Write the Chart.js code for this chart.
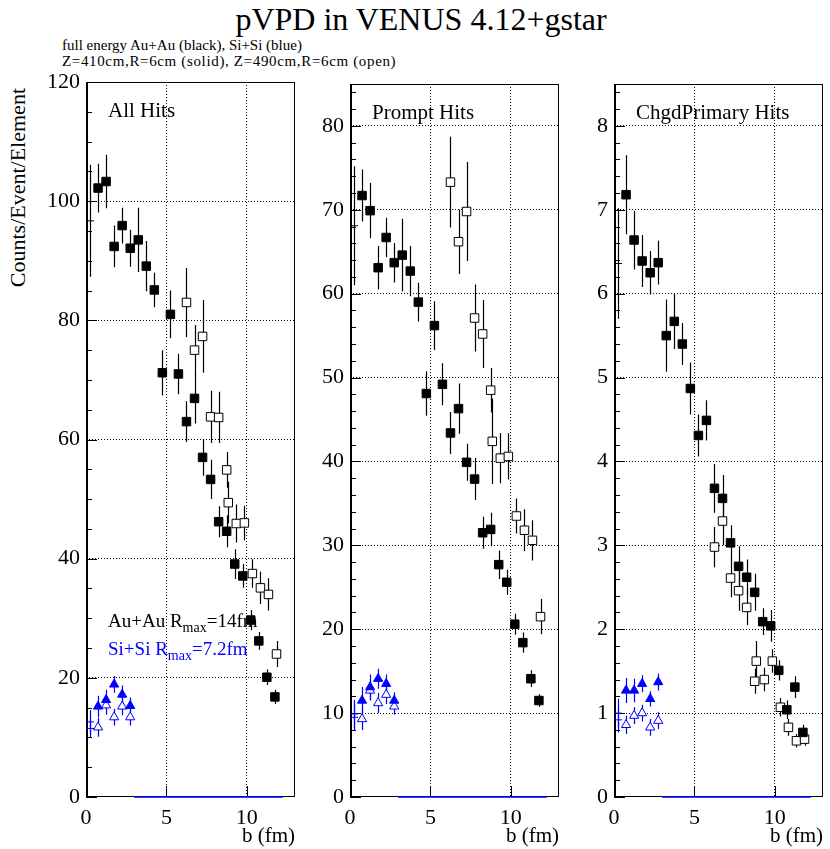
<!DOCTYPE html>
<html>
<head>
<meta charset="utf-8">
<title>pVPD in VENUS 4.12+gstar</title>
<script src="https://cdn.jsdelivr.net/npm/chart.js@4.4.1/dist/chart.umd.min.js"></script>
<style>
  body { margin: 0; background: #fff; }
  #page { position: relative; width: 830px; height: 849px; overflow: hidden; font-family: 'Liberation Serif', 'Times New Roman', serif; color: #000; }
  #page canvas { position: absolute; top: 0; }
  .txt { position: absolute; white-space: nowrap; line-height: 1; }
</style>
</head>
<body>
<div id="page">
  <div class="txt" style="left:0;width:842px;text-align:center;top:3px;font-size:32px">pVPD in VENUS 4.12+gstar</div>
  <div class="txt" style="left:62px;top:38px;font-size:15px">full energy Au+Au (black), Si+Si (blue)</div>
  <div class="txt" style="left:62px;top:54px;font-size:15px;letter-spacing:0.65px">Z=410cm,R=6cm (solid), Z=490cm,R=6cm (open)</div>
  <div class="txt" style="left:18px;top:88px;font-size:22px;transform-origin:0 0;transform:rotate(-90deg) translate(-100%,-50%)">Counts/Event/Element</div>
  <canvas id="allHits" width="277" height="849" style="left:26px"></canvas>
  <canvas id="promptHits" width="277" height="849" style="left:290px"></canvas>
  <canvas id="chgdHits" width="277" height="849" style="left:554px"></canvas>
</div>
<script>
// impact parameter bins (fm)
const bCenters = [0.25, 0.75, 1.25, 1.75, 2.25, 2.75, 3.25, 3.75, 4.25, 4.75, 5.25, 5.75,
                  6.25, 6.75, 7.25, 7.75, 8.25, 8.75, 9.25, 9.75, 10.25, 10.75, 11.25, 11.75]
const bOpen = [6.25, 6.75, 7.25, 7.75, 8.25, 8.75, 8.85, 9.35, 9.85, 10.35, 10.85, 11.35, 11.85]
const bSi = [0.25, 0.75, 1.25, 1.75, 2.25, 2.75]
const bSiEmpty = [3.0, 12.25]
const siEmpty = [0, 0]

// All Hits
const allAuSolid = [96.7, 102.2, 103.3, 92.4, 95.9, 92.1, 93.5, 89.1, 85.1, 71.2, 81.0, 71.0,
                    63.0, 66.9, 57.0, 53.3, 46.2, 44.6, 39.1, 37.1, 29.7, 26.2, 20.1, 16.8]
const allAuSolidErr = [9.4, 4.1, 4.5, 3.5, 3.0, 3.1, 5.4, 4.2, 2.9, 3.8, 4.0, 3.4,
                       3.4, 4.2, 3.1, 3.3, 2.6, 2.7, 2.5, 2.0, 1.7, 1.5, 1.3, 1.2]
const allAuOpen = [83.0, 75.0, 77.3, 63.8, 63.7, 54.9, 49.4, 45.9, 46.0, 37.5, 35.1, 34.0, 24.0]
const allAuOpenErr = [5.8, 4.2, 6.1, 4.4, 4.3, 3.0, 3.5, 3.2, 2.9, 2.4, 2.7, 2.7, 2.2]
const allSiSolid = [12.6, 15.2, 16.3, 18.9, 17.2, 15.3]
const allSiSolidErr = [2.0, 1.8, 1.7, 1.4, 1.5, 1.4]
const allSiOpen = [11.5, 11.7, 15.4, 13.4, 15.2, 13.4]
const allSiOpenErr = [1.6, 1.6, 1.6, 1.4, 1.5, 1.4]

// Prompt Hits
const promptAuSolid = [68.1, 71.7, 69.9, 63.1, 66.7, 63.7, 64.6, 62.7, 59.0, 48.1, 56.2, 49.2,
                       43.4, 46.3, 39.9, 37.9, 31.5, 31.9, 27.7, 25.6, 20.6, 18.4, 14.1, 11.5]
const promptAuSolidErr = [7.1, 3.1, 3.3, 2.6, 2.35, 2.35, 4.35, 3.0, 2.3, 2.65, 2.9, 2.5,
                          2.5, 3.0, 2.2, 2.5, 1.9, 2.0, 1.7, 1.5, 1.25, 1.2, 1.0, 0.75]
const promptAuOpen = [73.3, 66.2, 69.8, 57.1, 55.2, 48.5, 42.4, 40.4, 40.6, 33.5, 31.8, 30.6, 21.5]
const promptAuOpenErr = [5.4, 3.85, 5.9, 4.0, 4.05, 2.65, 5.1, 3.0, 2.75, 2.1, 2.5, 2.4, 2.1]
const promptSiSolid = [9.9, 11.5, 13.1, 14.1, 13.5, 11.5]
const promptSiSolidErr = [1.7, 1.6, 1.5, 1.2, 1.1, 1.0]
const promptSiOpen = [9.5, 9.3, 12.7, 11.2, 12.2, 10.8]
const promptSiOpenErr = [1.6, 1.3, 1.2, 1.2, 1.1, 1.0]

// ChgdPrimary Hits
const chgdAuSolid = [6.36, 7.18, 6.64, 6.39, 6.25, 6.37, 5.5, 5.67, 5.4, 4.87, 4.31, 4.49,
                     3.68, 3.56, 3.03, 2.75, 2.62, 2.44, 2.09, 2.04, 1.51, 1.04, 1.31, 0.77]
const chgdAuSolidErr = [0.66, 0.47, 0.35, 0.31, 0.26, 0.26, 0.43, 0.33, 0.25, 0.31, 0.25, 0.24,
                        0.29, 0.28, 0.21, 0.24, 0.21, 0.22, 0.16, 0.19, 0.12, 0.11, 0.13, 0.09]
const chgdAuOpen = [2.98, 3.29, 2.61, 2.46, 2.26, 1.38, 1.62, 1.40, 1.62, 1.07, 0.83, 0.67, 0.69]
const chgdAuOpenErr = [0.24, 0.29, 0.23, 0.24, 0.21, 0.15, 0.24, 0.14, 0.14, 0.11, 0.10, 0.08, 0.08]
const chgdSiSolid = [1.0, 1.27, 1.27, 1.35, 1.17, 1.37]
const chgdSiSolidErr = [0.17, 0.15, 0.14, 0.1, 0.09, 0.1]
const chgdSiOpen = [0.92, 0.86, 0.97, 1.0, 0.83, 0.91]
const chgdSiOpenErr = [0.15, 0.11, 0.1, 0.1, 0.1, 0.1]

// axis ticks: [max, minor step, labelled step]
const allYTicks = [120, 5, 20]
const promptYTicks = [85, 2, 10]
const chgdYTicks = [8.5, 0.2, 1]
const xTicks = [13, 5, 5]

Chart.defaults.font.family = "'Liberation Serif', 'Times New Roman', serif"
Chart.defaults.color = '#000'

const pts = (xs, ys) => xs.map((x, i) => ({x, y: ys[i]}))
const onMajor = (v, major) => Math.abs(v / major - Math.round(v / major)) < 1e-6
// the first bin sits on the frame: root only shows its bars
const atEdge = c => c.raw && c.raw.x < 0.5

const rootFrame = {
    id: 'rootFrame',
    beforeDatasetsDraw(chart, args, opts) {
        const {ctx, chartArea: a, scales: {x, y}} = chart
        ctx.save()
        ctx.strokeStyle = '#000'
        ctx.lineWidth = 1
        ctx.beginPath()
        y.ticks.forEach(t => {
            const py = Math.round(y.getPixelForValue(t.value)) + 0.5
            ctx.moveTo(a.left, py)
            ctx.lineTo(a.left + (onMajor(t.value, opts.major) ? 11 : 6), py)
        })
        x.ticks.forEach(t => {
            if (!onMajor(t.value, xTicks[2])) return
            const px = Math.round(x.getPixelForValue(t.value)) + 0.5
            ctx.moveTo(px, a.bottom)
            ctx.lineTo(px, a.bottom - 11)
        })
        ctx.stroke()
        ctx.strokeRect(a.left + 0.5, a.top + 0.5, a.width - 1, a.height - 1)
        ctx.lineWidth = 2
        ctx.beginPath()
        ctx.moveTo(a.left + 1, a.top)
        ctx.lineTo(a.left + 1, a.bottom)
        ctx.stroke()

        // error bars, under the markers
        ctx.beginPath()
        ctx.rect(a.left, a.top, a.width, a.height)
        ctx.clip()
        ctx.lineWidth = 1.2
        chart.data.datasets.forEach((ds, i) => {
            if (!ds.errors) return
            const meta = chart.getDatasetMeta(i)
            ctx.strokeStyle = ds.borderColor
            ctx.beginPath()
            meta.data.forEach((pt, j) => {
                const v = ds.data[j].y
                const e = ds.errors[j]
                const px = Math.round(pt.x) + 0.5
                ctx.moveTo(px, y.getPixelForValue(v + e))
                ctx.lineTo(px, y.getPixelForValue(v - e))
            })
            ctx.stroke()
        })
        ctx.restore()
    },
    afterDraw(chart, args, opts) {
        const {ctx, chartArea: a} = chart
        ctx.save()
        ctx.fillStyle = '#000'
        ctx.font = "21px 'Liberation Serif'"
        ctx.fillText(opts.label, a.left + 22, a.top + 35)
        if (opts.legend) {
            const rmax = (pre, post, color, base) => {
                ctx.fillStyle = color
                let px = a.left + 22
                ctx.font = "19px 'Liberation Serif'"
                ctx.fillText(pre, px, base)
                px += ctx.measureText(pre).width
                ctx.font = "14px 'Liberation Serif'"
                ctx.fillText('max', px, base + 5)
                px += ctx.measureText('max').width
                ctx.font = "19px 'Liberation Serif'"
                ctx.fillText(post, px, base)
            }
            rmax('Au+Au R', '=14fm', '#000', a.bottom - 170)
            rmax('Si+Si R', '=7.2fm', '#0000ff', a.bottom - 142)
        }
        ctx.restore()
    },
}

function makePanel(id, p) {
    const [yMax, yStep, yMajor] = p.yTicks
    return new Chart(document.getElementById(id), {
        type: 'scatter',
        data: {
            datasets: [
                {
                    data: pts(bCenters, p.auSolid),
                    errors: p.auSolidErr,
                    pointStyle: c => atEdge(c) ? 'line' : 'rect',
                    pointRadius: c => atEdge(c) ? 4 : 6,
                    backgroundColor: '#000',
                    borderColor: '#000',
                    borderWidth: 1,
                },
                {
                    data: pts(bOpen, p.auOpen),
                    errors: p.auOpenErr,
                    pointStyle: 'rect',
                    pointRadius: 6,
                    backgroundColor: '#fff',
                    borderColor: '#000',
                    borderWidth: 1,
                },
                {
                    data: pts(bSi, p.siSolid),
                    errors: p.siSolidErr,
                    pointStyle: c => atEdge(c) ? 'line' : 'triangle',
                    pointRadius: c => atEdge(c) ? 4 : 5.3,
                    backgroundColor: '#0000ff',
                    borderColor: '#0000ff',
                    borderWidth: 1,
                },
                {
                    data: pts(bSi, p.siOpen),
                    errors: p.siOpenErr,
                    pointStyle: c => atEdge(c) ? 'line' : 'triangle',
                    pointRadius: c => atEdge(c) ? 4 : 5.3,
                    backgroundColor: '#fff',
                    borderColor: '#0000ff',
                    borderWidth: 1,
                },
                {
                    data: pts(bSiEmpty, siEmpty),
                    showLine: true,
                    pointRadius: 0,
                    borderColor: '#0000ff',
                    borderWidth: 1.5,
                    clip: false,
                },
            ],
        },
        options: {
            responsive: false,
            animation: false,
            events: [],
            layout: {padding: {top: p.top, bottom: 0, left: 0, right: 0}},
            plugins: {
                legend: {display: false},
                tooltip: {enabled: false},
                rootFrame: {major: yMajor, label: p.label, legend: p.legend},
            },
            scales: {
                x: {
                    type: 'linear',
                    min: 0,
                    max: xTicks[0],
                    bounds: 'data',
                    afterFit: s => { s.height = 52 },
                    ticks: {
                        stepSize: xTicks[1],
                        includeBounds: false,
                        padding: 8,
                        font: {size: 22},
                        maxRotation: 0,
                        callback: v => onMajor(v, xTicks[2]) ? String(v) : '',
                    },
                    grid: {
                        drawTicks: false,
                        lineWidth: 1,
                        color: c => c.tick && c.tick.value > 0 && c.tick.value < xTicks[0] && onMajor(c.tick.value, xTicks[2]) ? '#000' : 'rgba(0,0,0,0)',
                    },
                    border: {display: false, dash: [1, 2]},
                    title: {display: true, text: 'b (fm)', align: 'end', font: {size: 21, lineHeight: 0.8}, padding: {top: 0, bottom: 4}},
                },
                y: {
                    type: 'linear',
                    min: 0,
                    max: yMax,
                    bounds: 'data',
                    afterFit: s => { s.width = 60 },
                    ticks: {
                        stepSize: yStep,
                        includeBounds: false,
                        autoSkip: false,
                        padding: 6,
                        font: {size: 22},
                        callback: v => onMajor(v, yMajor) ? String(Math.round(v)) : '',
                    },
                    grid: {
                        drawTicks: false,
                        lineWidth: 1,
                        color: c => c.tick && c.tick.value > 0 && c.tick.value < yMax && onMajor(c.tick.value, yMajor) ? '#000' : 'rgba(0,0,0,0)',
                    },
                    border: {display: false, dash: [1, 2]},
                },
            },
        },
        plugins: [rootFrame],
    })
}

makePanel('allHits', {
    top: 82, label: 'All Hits', legend: true, yTicks: allYTicks,
    auSolid: allAuSolid, auSolidErr: allAuSolidErr, auOpen: allAuOpen, auOpenErr: allAuOpenErr,
    siSolid: allSiSolid, siSolidErr: allSiSolidErr, siOpen: allSiOpen, siOpenErr: allSiOpenErr,
})
makePanel('promptHits', {
    top: 84, label: 'Prompt Hits', legend: false, yTicks: promptYTicks,
    auSolid: promptAuSolid, auSolidErr: promptAuSolidErr, auOpen: promptAuOpen, auOpenErr: promptAuOpenErr,
    siSolid: promptSiSolid, siSolidErr: promptSiSolidErr, siOpen: promptSiOpen, siOpenErr: promptSiOpenErr,
})
makePanel('chgdHits', {
    top: 84, label: 'ChgdPrimary Hits', legend: false, yTicks: chgdYTicks,
    auSolid: chgdAuSolid, auSolidErr: chgdAuSolidErr, auOpen: chgdAuOpen, auOpenErr: chgdAuOpenErr,
    siSolid: chgdSiSolid, siSolidErr: chgdSiSolidErr, siOpen: chgdSiOpen, siOpenErr: chgdSiOpenErr,
})
</script>
</body>
</html>
